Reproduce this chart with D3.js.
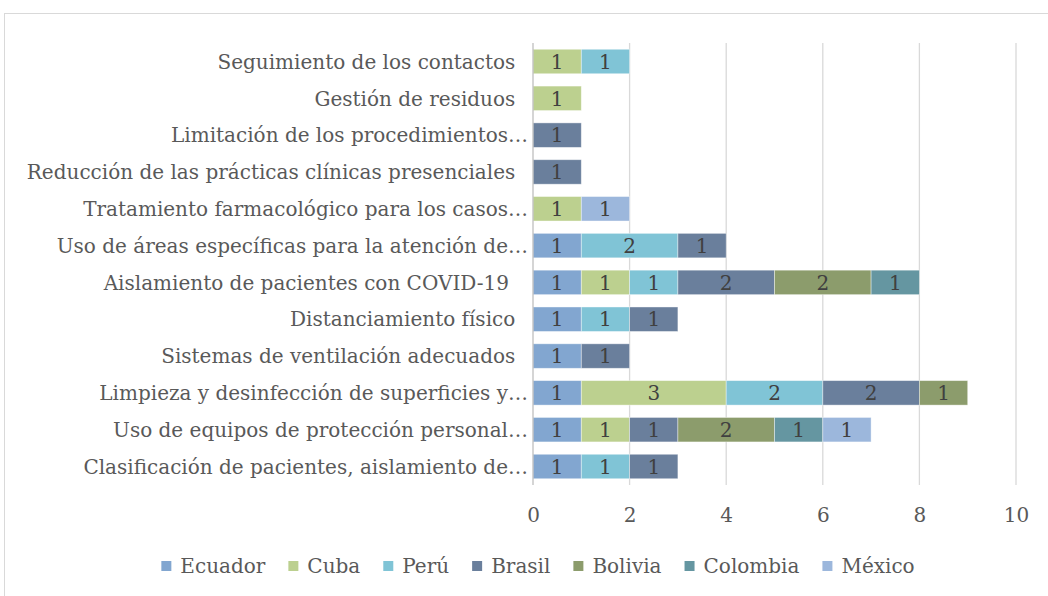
<!DOCTYPE html>
<html>
<head>
<meta charset="utf-8">
<script src="https://cdn.jsdelivr.net/npm/d3@7"></script>
<style>
  body { margin: 0; background: #fff; }
  text { font-family: "DejaVu Serif", serif; }
</style>
</head>
<body>
<div class="chart"></div>
<script>
// setup chart dimensions
var svgWidth = 1048;
var svgHeight = 596;

var margin = { top: 43, right: 32, bottom: 111, left: 533 };

// categories, top to bottom
var categories = [
  "Seguimiento de los contactos  ",
  "Gestión de residuos  ",
  "Limitación de los procedimientos…",
  "Reducción de las prácticas clínicas presenciales  ",
  "Tratamiento farmacológico para los casos…",
  "Uso de áreas específicas para la atención de…",
  "Aislamiento de pacientes con COVID-19   ",
  "Distanciamiento físico  ",
  "Sistemas de ventilación adecuados  ",
  "Limpieza y desinfección de superficies y…",
  "Uso de equipos de protección personal…",
  "Clasificación de pacientes, aislamiento de…"
];

var seriesNames = ["Ecuador", "Cuba", "Perú", "Brasil", "Bolivia", "Colombia", "México"];
var seriesColors = ["#82a6d0", "#bcd08f", "#80c4d6", "#6a7f9c", "#8c9c6c", "#6596a1", "#9cb7dc"];

// values per country, same order as categories
var ecuador  = [0, 0, 0, 0, 0, 1, 1, 1, 1, 1, 1, 1];
var cuba     = [1, 1, 0, 0, 1, 0, 1, 0, 0, 3, 1, 0];
var peru     = [1, 0, 0, 0, 0, 2, 1, 1, 0, 2, 0, 1];
var brasil   = [0, 0, 1, 1, 0, 1, 2, 1, 1, 2, 1, 1];
var bolivia  = [0, 0, 0, 0, 0, 0, 2, 0, 0, 1, 2, 0];
var colombia = [0, 0, 0, 0, 0, 0, 1, 0, 0, 0, 1, 0];
var mexico   = [0, 0, 0, 0, 1, 0, 0, 0, 0, 0, 1, 0];

var xTicks = [0, 2, 4, 6, 8, 10];

var seriesValues = [ecuador, cuba, peru, brasil, bolivia, colombia, mexico];

// table for d3.stack
var tableData = categories.map(function(c, i) {
  var row = { category: c };
  seriesNames.forEach(function(s, j) { row[s] = seriesValues[j][i]; });
  return row;
});

var svg = d3.select(".chart")
  .append("svg")
  .attr("width", svgWidth)
  .attr("height", svgHeight);

// outer border
svg.append("rect")
  .attr("x", 4.5)
  .attr("y", 13.5)
  .attr("width", 1060)
  .attr("height", 600)
  .attr("fill", "none")
  .attr("stroke", "#d9d9d9");

var xScale = d3.scaleLinear()
  .domain([0, 10])
  .range([margin.left, margin.left + 483]);

var yScale = d3.scaleBand()
  .domain(categories)
  .range([margin.top, margin.top + 442])
  .paddingInner(0.335)
  .paddingOuter(0.17);

// gridlines
svg.append("g")
  .selectAll("line")
  .data(xTicks.slice(1))
  .enter()
  .append("line")
  .attr("x1", d => xScale(d))
  .attr("x2", d => xScale(d))
  .attr("y1", margin.top)
  .attr("y2", margin.top + 442)
  .attr("stroke", "#d9d9d9")
  .attr("stroke-width", 1.3);

// stacked bars
var stacked = d3.stack().keys(seriesNames)(tableData);

var layers = svg.append("g")
  .selectAll("g")
  .data(stacked)
  .enter()
  .append("g")
  .attr("fill", (d, i) => seriesColors[i]);

layers.selectAll("rect")
  .data(d => d.filter(p => p[1] - p[0] > 0))
  .enter()
  .append("rect")
  .attr("x", d => xScale(d[0]))
  .attr("y", d => yScale(d.data.category))
  .attr("width", d => xScale(d[1]) - xScale(d[0]))
  .attr("height", yScale.bandwidth())
  .attr("stroke", "#ffffff")
  .attr("stroke-opacity", 0.5)
  .attr("stroke-width", 0.8);

// value labels
layers.selectAll("text")
  .data(d => d.filter(p => p[1] - p[0] > 0))
  .enter()
  .append("text")
  .attr("x", d => (xScale(d[0]) + xScale(d[1])) / 2)
  .attr("y", d => yScale(d.data.category) + yScale.bandwidth() / 2)
  .attr("dy", "0.36em")
  .attr("text-anchor", "middle")
  .attr("fill", "#404040")
  .style("font-size", "20px")
  .text(d => d[1] - d[0]);

// y axis line
svg.append("line")
  .attr("x1", margin.left)
  .attr("x2", margin.left)
  .attr("y1", margin.top)
  .attr("y2", margin.top + 442)
  .attr("stroke", "#bfbfbf")
  .attr("stroke-width", 1.3);

// category labels
svg.append("g")
  .selectAll("text")
  .data(categories)
  .enter()
  .append("text")
  .attr("x", margin.left - 5)
  .attr("y", d => yScale(d) + yScale.bandwidth() / 2)
  .attr("dy", "0.36em")
  .attr("text-anchor", "end")
  .attr("fill", "#595959")
  .style("font-size", "20px")
  .style("white-space", "pre")
  .text(d => d);

// x tick labels
var xAxis = d3.axisBottom(xScale).tickValues(xTicks).tickSize(0).tickPadding(23);
var xAxisG = svg.append("g")
  .attr("transform", `translate(0, ${margin.top + 442})`)
  .call(xAxis);
xAxisG.select(".domain").remove();
xAxisG.selectAll("text")
  .attr("fill", "#595959")
  .style("font-size", "20px")
  .style("font-family", "DejaVu Serif, serif");

// legend
var legend = svg.append("g");
var legendItems = legend.selectAll("g")
  .data(seriesNames)
  .enter()
  .append("g");

legendItems.append("rect")
  .attr("width", 10)
  .attr("height", 10)
  .attr("y", -5)
  .attr("fill", (d, i) => seriesColors[i]);

legendItems.append("text")
  .attr("x", 19)
  .attr("dy", "0.36em")
  .attr("fill", "#595959")
  .style("font-size", "20px")
  .text(d => d);

var pos = 0;
legendItems.each(function() {
  var w = d3.select(this).select("text").node().getComputedTextLength();
  d3.select(this).attr("data-x", pos);
  pos += 19 + w + 23;
});
var totalW = pos - 23;
var startX = (svgWidth - totalW) / 2 + 14;
legendItems.attr("transform", function() {
  return `translate(${startX + +d3.select(this).attr("data-x")}, 566)`;
});
</script>
</body>
</html>
